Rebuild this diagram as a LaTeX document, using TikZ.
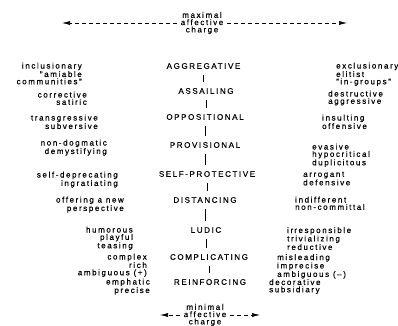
\documentclass[tikz,border=0pt]{standalone}
\usepackage{fontspec}
\setmainfont{Liberation Sans}[LetterSpace=20,FakeBold=0.4]
\usetikzlibrary{arrows.meta}
\tikzset{
  txt/.style={inner sep=0pt, font=\fontsize{8}{7.3}\selectfont},
  lft/.style={txt, align=right, anchor=north east},
  rgt/.style={txt, align=left, anchor=north west},
  mid/.style={txt, anchor=center},
  charge/.style={txt, align=center},
  link/.style={line width=0.7pt, shorten <=6pt, shorten >=6pt},
  dasharrow/.style={line width=0.6pt, dash pattern=on 4pt off 3pt,
    -{Latex[length=8pt,width=4pt]}, shorten <=4pt}
}
\begin{document}
\begin{tikzpicture}[x=1pt,y=-1pt]
\useasboundingbox (0,0) rectangle (398,325);
\clip (0,0) rectangle (398,325);
% top and bottom
\node[charge] (max) at (202,23) {maximal\\affective\\charge};
\coordinate (maxL) at (62,23);
\coordinate (maxR) at (347,23);
\draw[dasharrow] (max) -- (maxL);
\draw[dasharrow] (max) -- (maxR);
\node[charge] (min) at (205,315) {minimal\\affective\\charge};
\coordinate (minL) at (160,315);
\coordinate (minR) at (260,315);
\draw[dasharrow] (min) -- (minL);
\draw[dasharrow] (min) -- (minR);
% centre column
\node[mid] (agg) at (203.5,66) {AGGREGATIVE};
\node[mid] (ass) at (206,91) {ASSAILING};
\node[mid] (opp) at (205,117) {OPPOSITIONAL};
\node[mid] (pro) at (205,145) {PROVISIONAL};
\node[mid] (sp)  at (207,174) {SELF-PROTECTIVE};
\node[mid] (dis) at (205,200) {DISTANCING};
\node[mid] (lud) at (206,230) {LUDIC};
\node[mid] (com) at (209,257) {COMPLICATING};
\node[mid] (rei) at (210,282) {REINFORCING};
\draw[link] (agg.south) -- (agg.south |- ass.north);
\draw[link] (ass.south) -- (ass.south |- opp.north);
\draw[link] (opp.south) -- (opp.south |- pro.north);
\draw[link] (pro.south) -- (pro.south |- sp.north);
\draw[link] (sp.south) -- (sp.south |- dis.north);
\draw[link] (dis.south) -- (dis.south |- lud.north);
\draw[link] (lud.south) -- (lud.south |- com.north);
\draw[link] (com.south) -- (com.south |- rei.north);
% left column
\node[lft] (l1) at (82,62.5)  {inclusionary\\"amiable\\communities"};
\node[lft] (l2) at (87,91.5)  {corrective\\satiric};
\node[lft] (l3) at (98,114.5) {transgressive\\subversive};
\node[lft] (l4) at (107,139.5) {non-dogmatic\\demystifying};
\node[lft] (l5) at (118,171.5) {self-deprecating\\ingratiating};
\node[lft] (l6) at (124,196.5) {offering a new\\perspective};
\node[lft] (l7) at (133,226.5) {humorous\\playful\\teasing};
\node[lft] (l8) at (147,253.5) {complex\\rich\\ambiguous (+)};
\node[lft] (l9) at (150,278.5) {emphatic\\precise};
% right column
\node[rgt] (r1) at (336,62.5)  {exclusionary\\elitist\\"in-groups"};
\node[rgt] (r2) at (328,90.5)  {destructive\\aggressive};
\node[rgt] (r3) at (322,114.5) {insulting\\offensive};
\node[rgt] (r4) at (312,143.5) {evasive\\hypocritical\\duplicitous};
\node[rgt] (r5) at (303,171.5) {arrogant\\defensive};
\node[rgt] (r6) at (295,196.5) {indifferent\\non-committal};
\node[rgt] (r7) at (287,227) {ir\hspace{1pt}responsible\\trivializing\\reductive};
\node[rgt] (r8) at (277,254) {misleading\\imprecise\\ambiguous (--)};
\node[rgt] (r9) at (269,279) {decorative\\subsidiary};
\end{tikzpicture}
\end{document}
